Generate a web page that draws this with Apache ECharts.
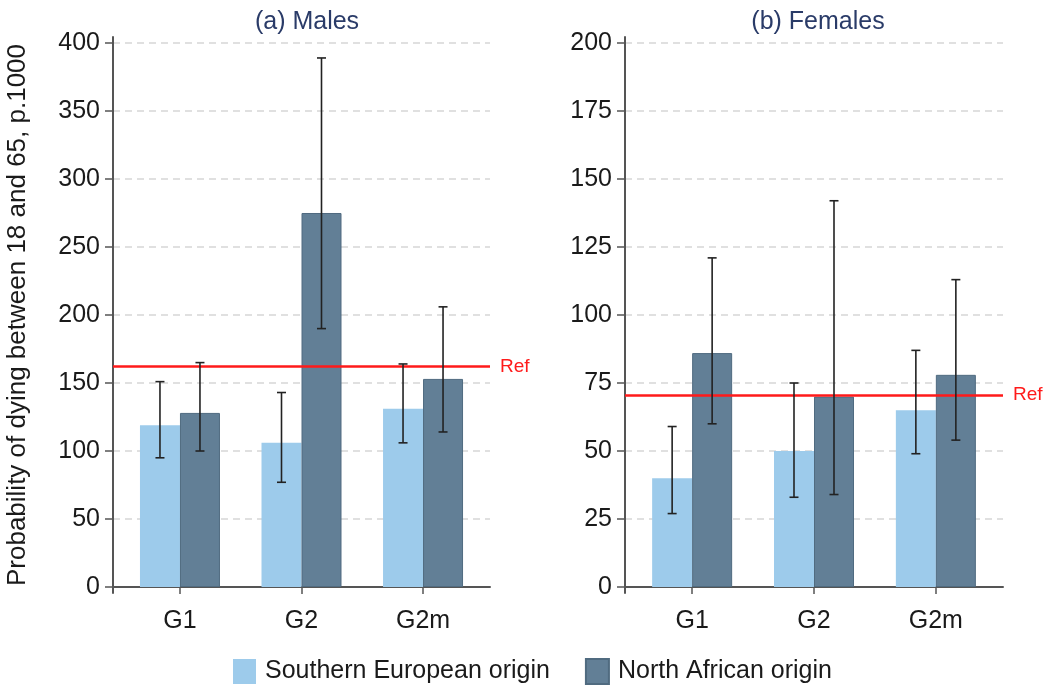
<!DOCTYPE html>
<html>
<head>
<meta charset="utf-8">
<script src="https://cdn.jsdelivr.net/npm/echarts@6/dist/echarts.min.js"></script>
<style>
html,body{margin:0;padding:0;background:#fff;}
#c{width:1050px;height:692px;}
</style>
</head>
<body>
<div id="c"></div>
<script>
// ---- data ----
const categories = ['G1', 'G2', 'G2m'];
const seriesNames = ['Southern European origin', 'North African origin'];
const panelTitles = ['(a) Males', '(b) Females'];
const yAxisName = 'Probability of dying between 18 and 65, p.1000';

const maleTicks = [0, 50, 100, 150, 200, 250, 300, 350, 400];
const femaleTicks = [0, 25, 50, 75, 100, 125, 150, 175, 200];

const maleSouth = [119, 106, 131];
const maleSouthLo = [95, 77, 106];
const maleSouthHi = [151, 143, 164];
const maleNorth = [128, 275, 153];
const maleNorthLo = [100, 190, 114];
const maleNorthHi = [165, 389, 206];
const maleRef = 162;

const femaleSouth = [40, 50, 65];
const femaleSouthLo = [27, 33, 49];
const femaleSouthHi = [59, 75, 87];
const femaleNorth = [86, 70, 78];
const femaleNorthLo = [60, 34, 54];
const femaleNorthHi = [121, 142, 113];
const femaleRef = 70.5;

// ---- styles ----
const FONT = '"Liberation Sans", Arial, Helvetica, sans-serif';
const C_LIGHT = '#9dcbeb';
const C_DARK = '#627f96';
const C_AXIS = '#555555';
const BAR_W = 40;
const catPos = categories.map((c, i) => i + 1);

function pairs(vals) { return vals.map((v, i) => [catPos[i], v]); }

function errSeries(idx, lo, hi, offset) {
  return {
    type: 'custom',
    xAxisIndex: idx, yAxisIndex: idx,
    z: 10,
    silent: true,
    encode: { x: 0, y: [1, 2] },
    data: lo.map((l, i) => [catPos[i], l, hi[i]]),
    renderItem: function (params, api) {
      const x = api.value(0);
      const a = api.coord([x, api.value(1)]);
      const b = api.coord([x, api.value(2)]);
      const cx = a[0] + offset;
      const st = { stroke: '#222222', lineWidth: 1.6 };
      const cap = 4.5;
      return {
        type: 'group',
        children: [
          { type: 'line', shape: { x1: cx, y1: a[1], x2: cx, y2: b[1] }, style: st },
          { type: 'line', shape: { x1: cx - cap, y1: a[1], x2: cx + cap, y2: a[1] }, style: st },
          { type: 'line', shape: { x1: cx - cap, y1: b[1], x2: cx + cap, y2: b[1] }, style: st }
        ]
      };
    }
  };
}

function xAxisCfg(idx) {
  return {
    type: 'value', gridIndex: idx,
    min: 0.449, max: 3.551,
    axisLine: { show: true, lineStyle: { color: C_AXIS, width: 2 } },
    axisTick: { show: true, length: 7, customValues: catPos, lineStyle: { color: C_AXIS, width: 1.5 } },
    axisLabel: {
      customValues: catPos,
      formatter: v => categories[Math.round(v) - 1],
      fontSize: 25, color: '#1a1a1a', fontFamily: FONT, margin: 16
    },
    splitLine: { show: false }
  };
}

function yAxisCfg(idx, ticks, pad, withName) {
  const top = ticks[ticks.length - 1];
  return {
    type: 'value', gridIndex: idx,
    min: -pad, max: top + pad,
    name: withName ? yAxisName : '',
    nameLocation: 'middle', nameGap: 82,
    nameTextStyle: { fontSize: 26, color: '#1a1a1a', fontFamily: FONT },
    axisLine: { show: true, lineStyle: { color: C_AXIS, width: 2 } },
    axisTick: { show: true, length: 8, customValues: ticks, lineStyle: { color: C_AXIS, width: 1.5 } },
    axisLabel: { customValues: ticks, fontSize: 25, color: '#1a1a1a', fontFamily: FONT, margin: 13 },
    splitLine: { show: true, lineStyle: { color: '#d6d6d6', width: 1.5, type: [7, 5] } }
  };
}

function refLine(val) {
  return {
    silent: true,
    symbol: 'none',
    lineStyle: { color: '#ff1a1a', width: 2.5, type: 'solid' },
    label: { show: true, position: 'end', formatter: 'Ref', color: '#ff1a1a', fontSize: 19, fontFamily: FONT, distance: 10 },
    data: [{ yAxis: val }]
  };
}

function barSeries(idx, name, vals, color, z, ref) {
  const s = {
    type: 'bar', name: name,
    xAxisIndex: idx, yAxisIndex: idx,
    data: pairs(vals),
    barWidth: BAR_W, barGap: '0%',
    z: z,
    itemStyle: { color: color },
    emphasis: { disabled: true }
  };
  if (color === C_DARK) { s.itemStyle.borderColor = '#506b80'; s.itemStyle.borderWidth = 1; }
  if (ref !== undefined) s.markLine = refLine(ref);
  return s;
}

const chart = echarts.init(document.getElementById('c'), null, { renderer: 'canvas' });
chart.setOption({
  animation: false,
  textStyle: { fontFamily: FONT },
  title: [
    { text: panelTitles[0], left: 302, top: 5, textAlign: 'center',
      textStyle: { fontSize: 25, fontWeight: 'normal', color: '#2a3b68', fontFamily: FONT } },
    { text: panelTitles[1], left: 813, top: 5, textAlign: 'center',
      textStyle: { fontSize: 25, fontWeight: 'normal', color: '#2a3b68', fontFamily: FONT } }
  ],
  legend: {
    left: 228, top: 653,
    itemWidth: 23, itemHeight: 25, itemGap: 35,
    icon: 'rect',
    selectedMode: false,
    textStyle: { fontSize: 25, color: '#1a1a1a', fontFamily: FONT, padding: [0, 0, 0, 4] },
    data: seriesNames
  },
  grid: [
    { left: 113, right: 560, top: 37, bottom: 99 },
    { left: 625, right: 47, top: 37, bottom: 99 }
  ],
  xAxis: [xAxisCfg(0), xAxisCfg(1)],
  yAxis: [yAxisCfg(0, maleTicks, 4.41, true), yAxisCfg(1, femaleTicks, 2.2, false)],
  series: [
    barSeries(0, seriesNames[0], maleSouth, C_LIGHT, 2, maleRef),
    barSeries(0, seriesNames[1], maleNorth, C_DARK, 3),
    errSeries(0, maleSouthLo, maleSouthHi, -BAR_W / 2),
    errSeries(0, maleNorthLo, maleNorthHi, BAR_W / 2),
    barSeries(1, seriesNames[0], femaleSouth, C_LIGHT, 2, femaleRef),
    barSeries(1, seriesNames[1], femaleNorth, C_DARK, 3),
    errSeries(1, femaleSouthLo, femaleSouthHi, -BAR_W / 2),
    errSeries(1, femaleNorthLo, femaleNorthHi, BAR_W / 2)
  ]
});
</script>
</body>
</html>
